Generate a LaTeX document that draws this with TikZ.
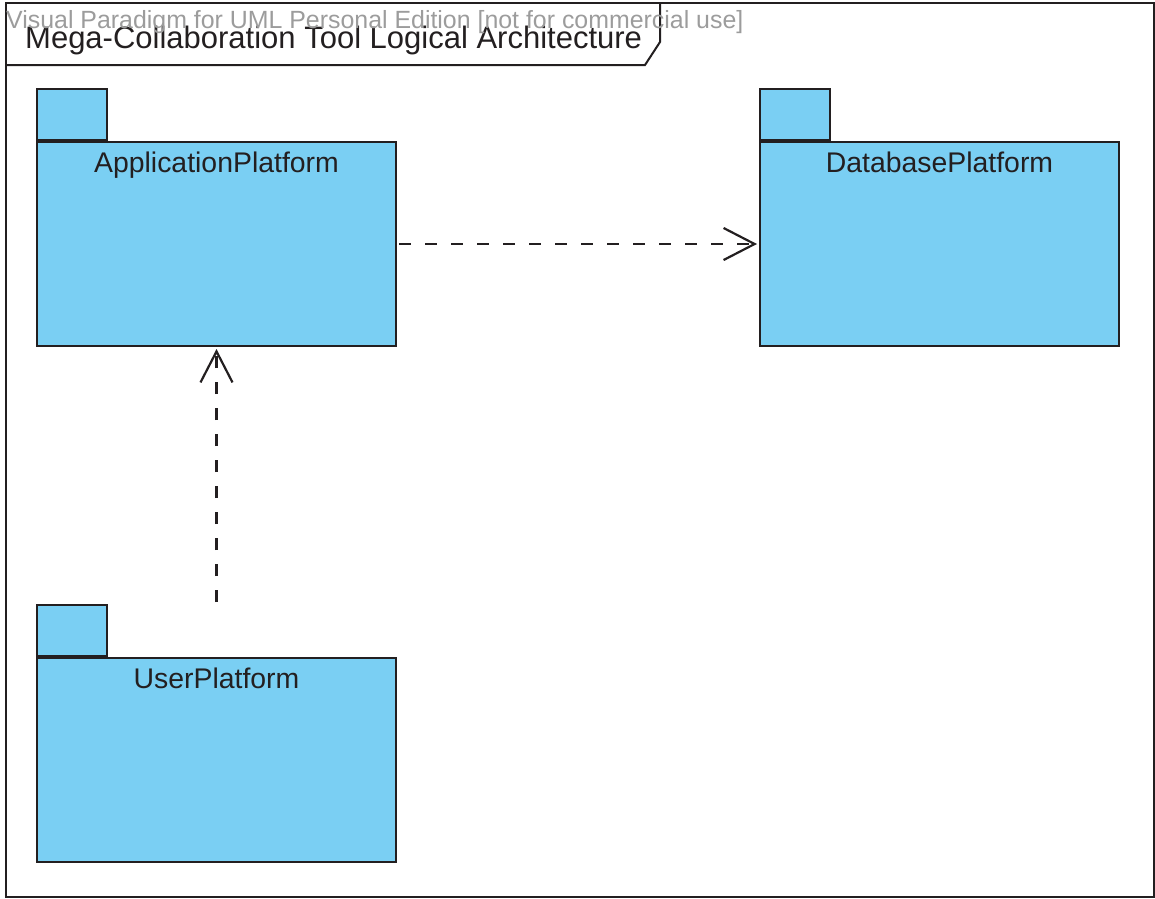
\documentclass[tikz,border=0pt]{standalone}
\usepackage{fontspec}
\setmainfont{Liberation Sans}
\usetikzlibrary{arrows.meta,positioning}
\definecolor{pkgblue}{HTML}{7ACFF3}
\definecolor{inkline}{HTML}{231F20}
\definecolor{markgray}{HTML}{9C9C9C}
\tikzset{font=\fontsize{28.4}{34}\selectfont}
\tikzset{pkgbody/.style={draw=inkline,fill=pkgblue,line width=2pt,minimum width=359pt,minimum height=204pt,inner sep=0pt}}
\tikzset{pkgtab/.style={draw=inkline,fill=pkgblue,line width=2pt,minimum width=70pt,minimum height=51pt,inner sep=0pt,anchor=south west}}
\tikzset{pkgname/.style={inner sep=0pt,text=inkline}}
\tikzset{depends/.style={draw=inkline,line width=2.2pt,dash pattern=on 12pt off 14pt,-{Straight Barb[length=31pt,width=32pt]}}}

\begin{document}
\begin{tikzpicture}[x=1pt,y=-1pt]
  \useasboundingbox (0,0) rectangle (1155,898);
  % frame and its name tab
  \draw[inkline,line width=2pt] (6,3) rectangle (1154,897);
  \draw[inkline,line width=2pt] (6,65) -- (645,65) -- (660,42) -- (660,3);
  \node[pkgname,anchor=base west,font=\fontsize{31}{36}\selectfont] (title) at (25,48) {Mega-Collaboration Tool Logical Architecture};
  \node[inner sep=0pt,anchor=base west,text=markgray,font=\fontsize{24.9}{30}\selectfont] (mark) at (6,28) {Visual Paradigm for UML Personal Edition [not for commercial use]};

  % packages
  \node[pkgbody] (appl) at (216.5,244) {};
  \node[pkgtab] (appltab) at (appl.north west) {};
  \node[pkgname,below=10.5pt of appl.north] (applname) {ApplicationPlatform};

  \node[pkgbody] (db) at (939.5,244) {};
  \node[pkgtab] (dbtab) at (db.north west) {};
  \node[pkgname,below=10.5pt of db.north] (dbname) {DatabasePlatform};

  \node[pkgbody] (user) at (216.5,760) {};
  \node[pkgtab] (usertab) at (user.north west) {};
  \node[pkgname,below=10.5pt of user.north] (username) {UserPlatform};

  % dependencies
  \draw[depends,shorten <=2pt,shorten >=2pt] (appl.east) -- (db.west);
  \draw[depends,shorten <=2pt,shorten >=2pt] (user.north |- usertab.north) -- (appl.south);
\end{tikzpicture}
\end{document}
